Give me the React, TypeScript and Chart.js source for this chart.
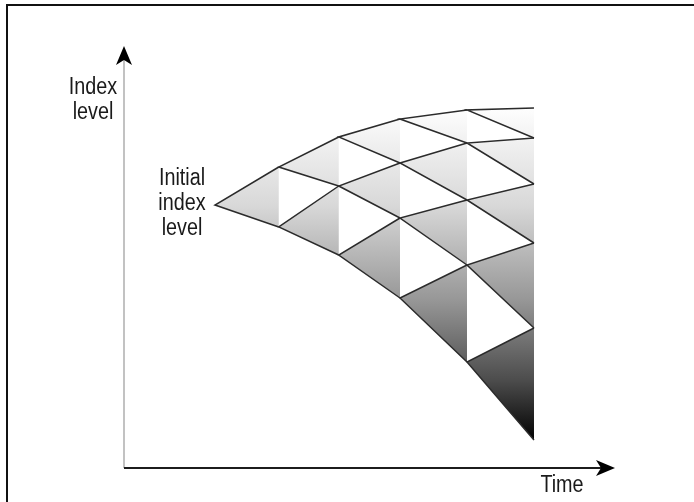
import { useEffect, useRef } from 'react';
import { Chart, registerables } from 'chart.js';

Chart.register(...registerables);

// time step of each column of the tree
const timeSteps = [0, 1, 1.94, 2.9, 3.95, 5];

// index level of the nodes at each time step, top to bottom
const levelsT0 = [100];
const levelsT1 = [109.5, 94.5];
const levelsT2 = [117, 104.75, 87.5];
const levelsT3 = [121.5, 110.5, 96.75, 76.75];
const levelsT4 = [123.75, 115.5, 101.25, 85, 60.75];
const levelsT5 = [124.25, 116.75, 105.25, 90.5, 69.25, 41.25];
const nodeLevels = [levelsT0, levelsT1, levelsT2, levelsT3, levelsT4, levelsT5];

const yAxisLabel = ['Index', 'level'];
const startLabel = ['Initial', 'index', 'level'];
const xAxisLabel = 'Time';

const LABEL_FONT = '"Liberation Sans Narrow", "Liberation Sans", Arial, sans-serif';

function shadeGradient(chart: Chart) {
  const { ctx, chartArea, scales } = chart;
  if (!chartArea) return '#cccccc';
  const y = scales.y;
  const g = ctx.createLinearGradient(0, y.getPixelForValue(125), 0, y.getPixelForValue(41));
  g.addColorStop(0, '#ffffff');
  g.addColorStop(0.3, '#d8d8d8');
  g.addColorStop(0.58, '#979797');
  g.addColorStop(0.82, '#4c4c4c');
  g.addColorStop(1, '#000000');
  return g;
}

const axesArrows = {
  id: 'axesArrows',
  beforeDatasetsDraw(chart: Chart) {
    const { ctx, chartArea } = chart;
    const { left, right, top, bottom } = chartArea;
    ctx.save();
    ctx.lineWidth = 2;
    ctx.strokeStyle = '#c2c2c2';
    ctx.beginPath();
    ctx.moveTo(left, bottom);
    ctx.lineTo(left, top + 12);
    ctx.stroke();
    ctx.strokeStyle = '#1c1c1c';
    ctx.beginPath();
    ctx.moveTo(left, bottom);
    ctx.lineTo(right - 12, bottom);
    ctx.stroke();
    ctx.fillStyle = '#000000';
    ctx.beginPath();
    ctx.moveTo(left, top);
    ctx.lineTo(left + 8, top + 19);
    ctx.lineTo(left, top + 14);
    ctx.lineTo(left - 8, top + 19);
    ctx.closePath();
    ctx.fill();
    ctx.beginPath();
    ctx.moveTo(right, bottom);
    ctx.lineTo(right - 19, bottom - 8);
    ctx.lineTo(right - 14, bottom);
    ctx.lineTo(right - 19, bottom + 8);
    ctx.closePath();
    ctx.fill();
    ctx.restore();
  },
};

function buildDatasets() {
  const sets: any[] = [];
  for (let t = 0; t < nodeLevels.length - 1; t++) {
    const here = nodeLevels[t];
    const next = nodeLevels[t + 1];
    for (let i = 0; i < here.length; i++) {
      sets.push({
        data: [
          { x: timeSteps[t + 1], y: next[i] },
          { x: timeSteps[t], y: here[i] },
          { x: timeSteps[t + 1], y: next[i + 1] },
        ],
        fill: 'shape',
        backgroundColor: (c: any) => shadeGradient(c.chart),
        borderColor: '#2b2b2b',
        borderWidth: 1.5,
        pointRadius: 0,
        tension: 0,
      });
    }
  }
  return sets;
}

function TreeChart() {
  const canvasRef = useRef<HTMLCanvasElement>(null);
  const chartRef = useRef<Chart | null>(null);

  useEffect(() => {
    if (!canvasRef.current) return;
    const ctx = canvasRef.current.getContext('2d');
    if (!ctx) return;
    if (chartRef.current) chartRef.current.destroy();

    chartRef.current = new Chart(ctx, {
      type: 'line',
      data: { datasets: buildDatasets() },
      options: {
        animation: false,
        responsive: true,
        maintainAspectRatio: false,
        layout: { padding: { left: 124, right: 79, top: 46, bottom: 34 } },
        scales: {
          x: { type: 'linear', min: -1.426, max: 6.27, display: false },
          y: { type: 'linear', min: 34.25, max: 139.75, display: false },
        },
        plugins: {
          legend: { display: false },
          tooltip: { enabled: false },
          filler: { drawTime: 'beforeDatasetsDraw', propagate: false },
        },
      },
      plugins: [axesArrows],
    });

    return () => {
      if (chartRef.current) {
        chartRef.current.destroy();
        chartRef.current = null;
      }
    };
  }, []);

  return <canvas ref={canvasRef} />;
}

const labelStyle = (left: number, top: number): React.CSSProperties => ({
  position: 'absolute',
  left: left - 60,
  top,
  width: 120,
  textAlign: 'center',
  fontFamily: LABEL_FONT,
  fontSize: 23,
  lineHeight: '25px',
  color: '#1a1a1a',
  transform: 'scaleX(0.86)',
  transformOrigin: 'center top',
});

export default function App() {
  return (
    <div style={{ position: 'fixed', left: 0, top: 0, width: 694, height: 502, background: '#fff', overflow: 'hidden' }}>
      <div
        style={{
          position: 'absolute',
          left: 6,
          top: 4,
          width: 720,
          height: 520,
          borderTop: '2px solid #111',
          borderLeft: '2px solid #111',
        }}
      />
      <div style={{ position: 'absolute', left: 0, top: 0, width: 694, height: 502 }}>
        <TreeChart />
      </div>
      <div style={labelStyle(93, 74)}>
        {yAxisLabel.map((s) => (
          <div key={s}>{s}</div>
        ))}
      </div>
      <div style={labelStyle(182, 164.5)}>
        {startLabel.map((s) => (
          <div key={s}>{s}</div>
        ))}
      </div>
      <div style={labelStyle(562, 472)}>{xAxisLabel}</div>
    </div>
  );
}
